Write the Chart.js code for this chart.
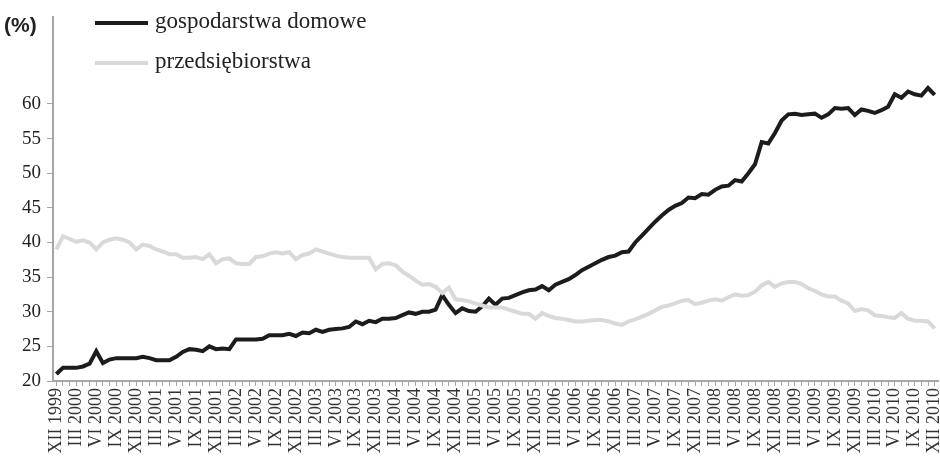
<!DOCTYPE html>
<html>
<head>
<meta charset="utf-8">
<script src="https://cdn.jsdelivr.net/npm/chart.js@4/dist/chart.umd.min.js"></script>
<style>
  html, body { margin: 0; padding: 0; background: #fff; }
  #wrap { position: relative; width: 940px; height: 461px; }
</style>
</head>
<body>
<div id="wrap"><canvas id="chart" width="940" height="461"></canvas></div>
<script>
// monthly, XII 1999 .. XII 2010 (133 months)
const romanMonths = ["I", "II", "III", "IV", "V", "VI", "VII", "VIII", "IX", "X", "XI", "XII"];
const startYear = 1999;
const startMonth = 11; // XII

const households = [
  21.0, 21.9, 21.9, 21.9, 22.1, 22.5, 24.3, 22.6, 23.1, 23.3,
  23.3, 23.3, 23.3, 23.5, 23.3, 23.0, 23.0, 23.0, 23.5, 24.2,
  24.6, 24.5, 24.3, 25.0, 24.6, 24.7, 24.6, 26.0, 26.0, 26.0,
  26.0, 26.1, 26.6, 26.6, 26.6, 26.8, 26.5, 27.0, 26.9, 27.4,
  27.1, 27.4, 27.5, 27.6, 27.8, 28.6, 28.2, 28.7, 28.5, 29.0,
  29.0, 29.1, 29.5, 29.9, 29.7, 30.0, 30.0, 30.3, 32.4, 31.0,
  29.8, 30.5, 30.1, 30.0, 30.8, 31.9, 31.0, 31.9, 32.0, 32.4,
  32.8, 33.1, 33.2, 33.7, 33.1, 33.9, 34.3, 34.7, 35.3, 36.0,
  36.5, 37.0, 37.5, 37.9, 38.1, 38.6, 38.7, 40.0, 41.0, 42.0,
  43.0, 43.9, 44.7, 45.3, 45.7, 46.5, 46.4, 47.0, 46.9, 47.6,
  48.1, 48.2, 49.0, 48.8, 50.0, 51.3, 54.5, 54.3, 55.8, 57.6,
  58.5, 58.6, 58.4, 58.5, 58.6, 58.0, 58.5, 59.4, 59.3, 59.4,
  58.4, 59.2, 59.0, 58.7, 59.1, 59.6, 61.4, 60.9, 61.8, 61.4,
  61.2, 62.3, 61.3
];

const companies = [
  39.0, 40.9, 40.5, 40.1, 40.3, 40.0, 39.0, 40.0, 40.4, 40.6,
  40.4, 40.0, 39.0, 39.7, 39.5, 39.0, 38.7, 38.3, 38.3, 37.8,
  37.8, 37.9, 37.6, 38.3, 37.0, 37.6, 37.7, 37.0, 36.9, 36.9,
  37.9, 38.0, 38.4, 38.6, 38.4, 38.6, 37.6, 38.2, 38.4, 39.0,
  38.7, 38.4, 38.1, 37.9, 37.8, 37.8, 37.8, 37.8, 36.1, 36.9,
  37.0, 36.7, 35.8, 35.2, 34.5, 33.9, 34.0, 33.6, 32.7, 33.5,
  31.8, 31.7, 31.5, 31.2, 30.9, 30.6, 30.6, 30.6, 30.3, 30.0,
  29.7, 29.7, 29.0, 29.8, 29.4, 29.1, 29.0, 28.8, 28.6, 28.6,
  28.7, 28.8, 28.8, 28.6, 28.3, 28.1, 28.6, 28.9, 29.3, 29.7,
  30.2, 30.7, 30.9, 31.2, 31.6, 31.7, 31.1, 31.3, 31.6, 31.8,
  31.6, 32.1, 32.5, 32.3, 32.4, 32.9, 33.8, 34.3, 33.6, 34.1,
  34.3, 34.3, 34.0, 33.4, 33.0, 32.5, 32.2, 32.2, 31.6, 31.2,
  30.1, 30.4, 30.2, 29.5, 29.4, 29.2, 29.1, 29.8, 29.0, 28.7,
  28.7, 28.6, 27.6
];

const seriesNames = ["gospodarstwa domowe", "przedsiębiorstwa"];
const seriesColors = ["#1c1c1c", "#d9d9d9"];
const yTicks = [20, 25, 30, 35, 40, 45, 50, 55, 60];

const labels = households.map((_, i) => {
  const m = (startMonth + i) % 12;
  const y = startYear + Math.floor((startMonth + i) / 12);
  return romanMonths[m] + " " + y;
});

const axisGray = "#a6a6a6";
const serif = "'Liberation Serif', 'Times New Roman', serif";

const legendPlugin = {
  id: "sideLegend",
  afterDraw(chart) {
    const ctx = chart.ctx;
    ctx.save();
    // unit label
    ctx.font = "bold 21px 'Liberation Sans', Arial, sans-serif";
    ctx.fillStyle = "#222";
    ctx.textBaseline = "middle";
    ctx.textAlign = "left";
    ctx.fillText("(%)", 4, 26);
    // legend entries
    const rows = [23, 63];
    seriesNames.forEach((name, i) => {
      ctx.strokeStyle = seriesColors[i];
      ctx.lineWidth = 4;
      ctx.beginPath();
      ctx.moveTo(95, rows[i]);
      ctx.lineTo(148, rows[i]);
      ctx.stroke();
      ctx.font = "23px " + serif;
      ctx.fillStyle = "#222";
      ctx.fillText(name, 155, rows[i] - 1);
    });
    ctx.restore();
  }
};

new Chart(document.getElementById("chart"), {
  type: "line",
  data: {
    labels: labels,
    datasets: [
      {
        label: seriesNames[1],
        data: companies,
        borderColor: seriesColors[1],
        borderWidth: 4,
        pointRadius: 0,
        tension: 0,
        fill: false
      },
      {
        label: seriesNames[0],
        data: households,
        borderColor: seriesColors[0],
        borderWidth: 4,
        pointRadius: 0,
        tension: 0,
        fill: false
      }
    ]
  },
  options: {
    responsive: false,
    animation: false,
    devicePixelRatio: 1,
    layout: { padding: { top: 12, right: 2, left: 0, bottom: 0 } },
    plugins: {
      legend: { display: false },
      tooltip: { enabled: false }
    },
    scales: {
      x: {
        offset: true,
        afterFit: s => {
          s.height = 80;
          s.paddingLeft = 0;
          s.paddingRight = 0;
        },
        border: { color: axisGray, width: 2 },
        grid: {
          display: true,
          drawOnChartArea: false,
          drawTicks: true,
          tickLength: 5,
          color: axisGray,
          lineWidth: 1
        },
        ticks: {
          autoSkip: false,
          minRotation: 90,
          maxRotation: 90,
          padding: 2,
          color: "#333",
          font: { family: serif, size: 18 },
          callback: function (v, i) {
            return i % 3 === 0 ? labels[i] : "";
          }
        }
      },
      y: {
        min: 20,
        max: 72.5,
        afterFit: s => { s.width = 53; },
        afterBuildTicks: s => { s.ticks = yTicks.map(v => ({ value: v })); },
        border: { color: axisGray, width: 2 },
        grid: {
          display: true,
          drawOnChartArea: false,
          drawTicks: true,
          tickLength: 6,
          color: axisGray
        },
        ticks: {
          padding: 6,
          color: "#222",
          font: { family: serif, size: 19 }
        }
      }
    }
  },
  plugins: [legendPlugin]
});
</script>
</body>
</html>
